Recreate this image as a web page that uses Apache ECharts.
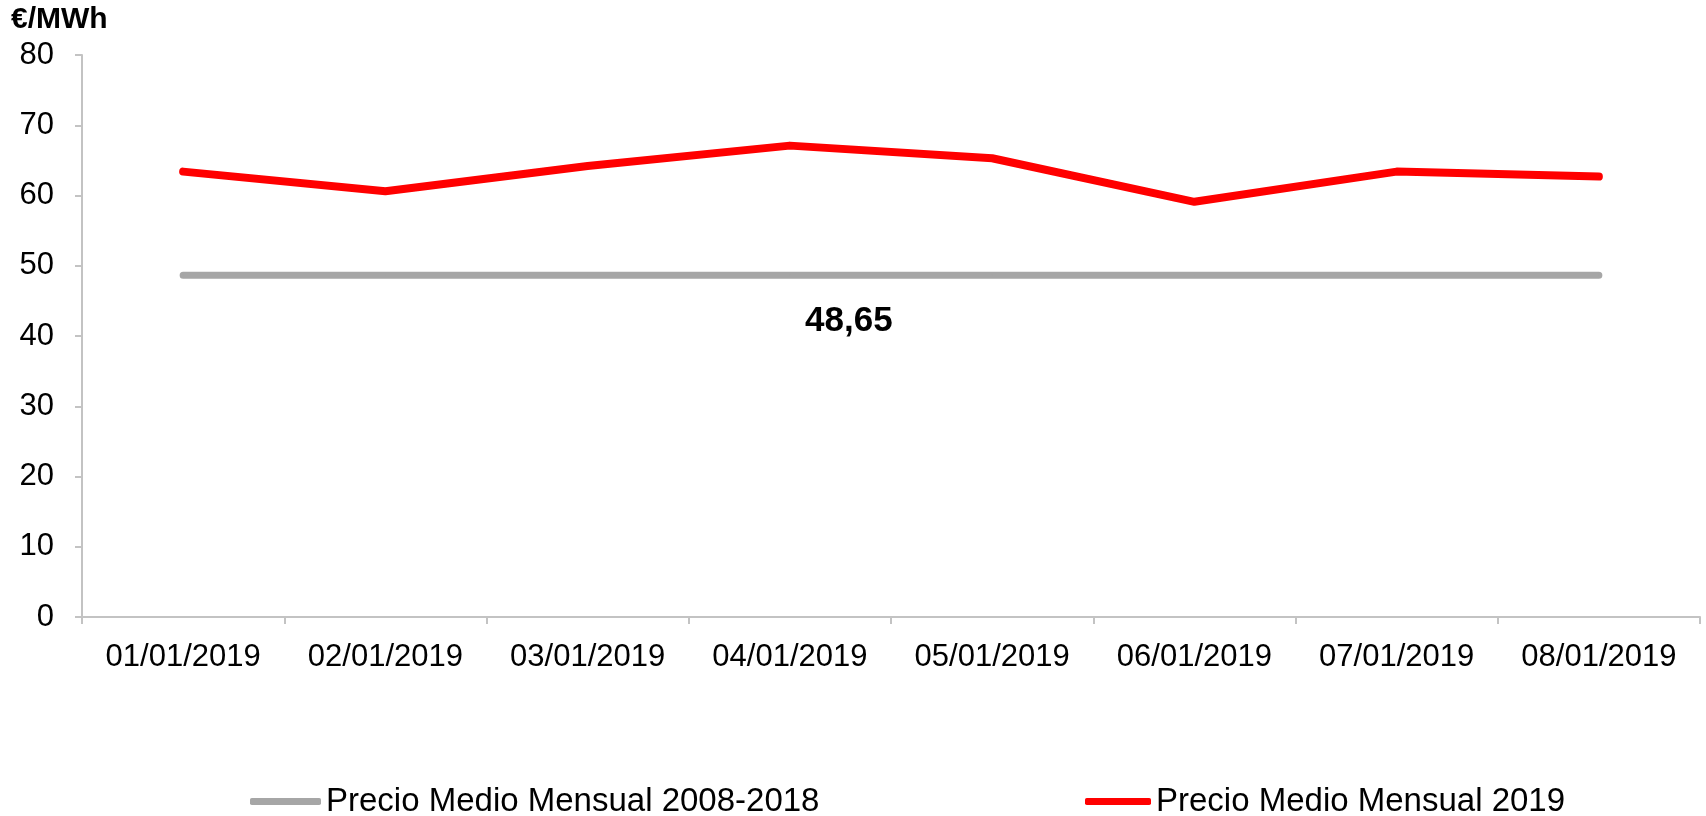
<!DOCTYPE html>
<html>
<head>
<meta charset="utf-8">
<title>Precio Medio Mensual</title>
<script src="https://cdn.jsdelivr.net/npm/echarts@6/dist/echarts.min.js"></script>
<style>
  html, body { margin: 0; padding: 0; background: #fff; }
  #main { width: 1706px; height: 816px; }
</style>
</head>
<body>
<div id="main"></div>
<script>
'use strict';
// datos
const categories = ['01/01/2019', '02/01/2019', '03/01/2019', '04/01/2019',
  '05/01/2019', '06/01/2019', '07/01/2019', '08/01/2019'];
const precio2019 = [63.4, 60.6, 64.2, 67.1, 65.3, 59.1, 63.4, 62.7];
const precioHist = [48.65, 48.65, 48.65, 48.65, 48.65, 48.65, 48.65, 48.65];
const yTicks = [0, 10, 20, 30, 40, 50, 60, 70, 80];
const nameHist = 'Precio Medio Mensual 2008-2018';
const name2019 = 'Precio Medio Mensual 2019';
const labelIndex = 3;

const font = '"Liberation Sans", Arial, sans-serif';
const axisGrey = '#c3c3c3';

let chart = echarts.init(document.getElementById('main'));
chart.setOption({
  animation: false,
  textStyle: {fontFamily: font, color: '#000'},
  title: {
    text: '€/MWh',
    left: 6,
    top: 0,
    textStyle: {fontFamily: font, fontSize: 30, fontWeight: 'bold', color: '#000'}
  },
  legend: [{
    data: [nameHist],
    left: 245,
    top: 780,
    icon: 'roundRect',
    itemWidth: 71,
    itemHeight: 7,
    textStyle: {fontFamily: font, fontSize: 33, color: '#000'}
  }, {
    data: [name2019],
    left: 1080,
    top: 780,
    icon: 'roundRect',
    itemWidth: 66,
    itemHeight: 7,
    textStyle: {fontFamily: font, fontSize: 33, color: '#000'}
  }],
  grid: {left: 82, right: 6, top: 55, bottom: 199, containLabel: false},
  xAxis: {
    type: 'category',
    data: categories,
    boundaryGap: true,
    axisLine: {lineStyle: {color: axisGrey, width: 2}},
    axisTick: {show: true, length: 7, lineStyle: {color: axisGrey, width: 2}},
    axisLabel: {fontFamily: font, fontSize: 31, color: '#000', margin: 25, interval: 0},
    splitLine: {show: false}
  },
  yAxis: {
    type: 'value',
    min: yTicks[0],
    max: yTicks[yTicks.length - 1],
    interval: 10,
    axisLine: {show: true, lineStyle: {color: axisGrey, width: 2}},
    axisTick: {show: true, length: 7, lineStyle: {color: axisGrey, width: 2}},
    axisLabel: {fontFamily: font, fontSize: 31, color: '#000', margin: 28},
    splitLine: {show: false}
  },
  series: [{
    name: nameHist,
    type: 'line',
    data: precioHist.map((v, i) => i === labelIndex ? {
      value: v,
      label: {
        show: true,
        position: 'bottom',
        offset: [59, 23],
        fontFamily: font,
        fontSize: 35,
        fontWeight: 'bold',
        color: '#000',
        formatter: p => String(p.value).replace('.', ',')
      }
    } : v),
    symbol: 'circle',
    symbolSize: 1,
    showSymbol: true,
    color: '#a6a6a6',
    lineStyle: {color: '#a6a6a6', width: 7, cap: 'round'}
  }, {
    name: name2019,
    type: 'line',
    data: precio2019,
    symbol: 'none',
    color: '#ff0000',
    lineStyle: {color: '#ff0000', width: 8, cap: 'round', join: 'round'}
  }]
});
</script>
</body>
</html>
